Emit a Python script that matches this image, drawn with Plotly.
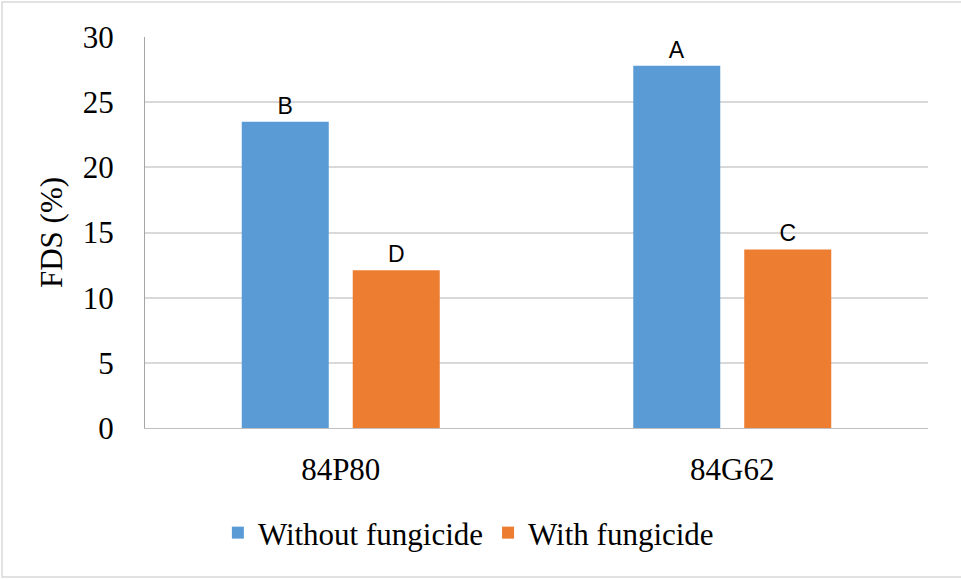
import plotly.graph_objects as go

categories = ["84P80", "84G62"]
without_fungicide = [23.5, 27.8]
with_fungicide = [12.1, 13.7]
letters_without = ["B", "A"]
letters_with = ["D", "C"]
series_names = ["Without fungicide", "With fungicide"]
y_ticks = [0, 5, 10, 15, 20, 25, 30]

BLUE = "#5b9bd5"
ORANGE = "#ed7d31"
serif = "Liberation Serif, Times New Roman, serif"
sans = "Liberation Sans, Arial, sans-serif"

fig = go.Figure()
fig.add_trace(go.Bar(x=categories, y=without_fungicide, name=series_names[0],
                     marker=dict(color=BLUE, line=dict(width=0)),
                     text=letters_without, textposition="outside",
                     textfont=dict(family=sans, size=23, color="black"),
                     cliponaxis=False))
fig.add_trace(go.Bar(x=categories, y=with_fungicide, name=series_names[1],
                     marker=dict(color=ORANGE, line=dict(width=0)),
                     text=letters_with, textposition="outside",
                     textfont=dict(family=sans, size=23, color="black"),
                     cliponaxis=False))

W, H = 961, 579
ml, mr, mt, mb = 145, 33, 37, 151
pw, ph = W - ml - mr, H - mt - mb

fig.update_layout(
    width=W, height=H,
    margin=dict(l=ml, r=mr, t=mt, b=mb),
    paper_bgcolor="white", plot_bgcolor="white",
    barmode="group", bargap=0.433, bargroupgap=0.216,
    showlegend=True,
    legend=dict(orientation="h", x=0.413, xanchor="center", y=-0.2685, yanchor="middle",
                font=dict(family=serif, size=31, color="black"),
                itemwidth=30, traceorder="normal"),
    xaxis=dict(showgrid=False, showline=True, linecolor="#bfbfbf", linewidth=1,
               ticks="", ticklabelstandoff=14,
               tickfont=dict(family=serif, size=31, color="black")),
    yaxis=dict(range=[0, 30], tickvals=y_ticks, showgrid=True, gridcolor="#d9d9d9",
               gridwidth=1.5, showline=True, linecolor="#a6a6a6", linewidth=1,
               ticks="", ticklabelstandoff=24, zeroline=False,
               tickfont=dict(family=serif, size=31, color="black"),
               title=dict(text="FDS (%)", standoff=10,
                          font=dict(family=serif, size=31, color="black"))),
    shapes=[dict(type="rect", xref="paper", yref="paper",
                 x0=(2 - ml) / pw, x1=(W + 5 - ml) / pw,
                 y0=-(577 - (H - mb)) / ph,
                 y1=((H - mb) - 2) / ph,
                 line=dict(color="#d9d9d9", width=1.5), fillcolor="rgba(0,0,0,0)",
                 layer="below")],
)

fig.write_html("out.html")
